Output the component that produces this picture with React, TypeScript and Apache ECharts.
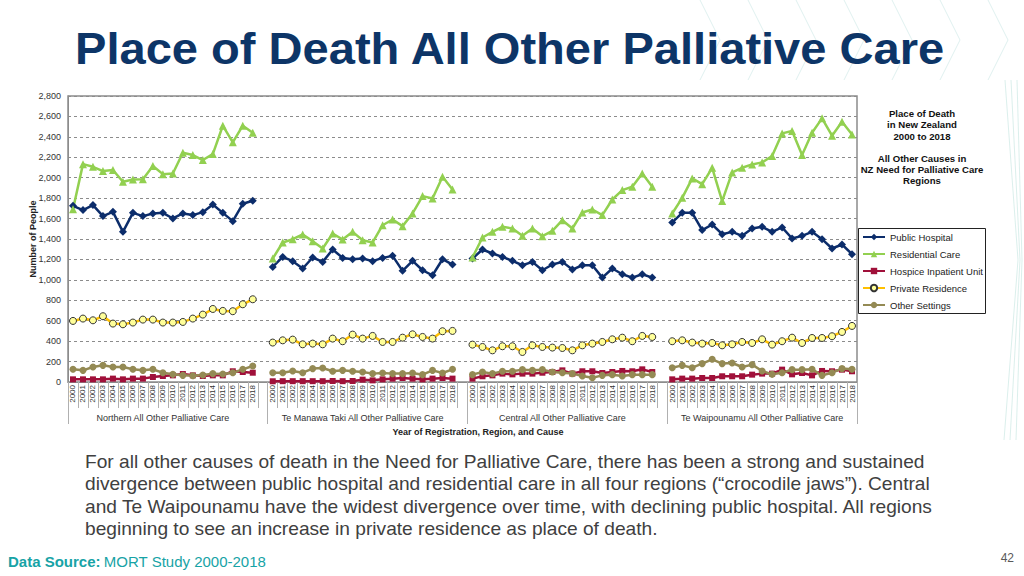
import React, { useEffect, useRef } from "react";
import * as echarts from "echarts";

const years = ["2000","2001","2002","2003","2004","2005","2006","2007","2008","2009","2010","2011","2012","2013","2014","2015","2016","2017","2018"];
const regions = [
  "Northern All Other Palliative Care",
  "Te Manawa Taki All Other Palliative Care",
  "Central All Other Palliative Care",
  "Te Waipounamu All Other Palliative Care",
];
const seriesNames = ["Public Hospital", "Residential Care", "Hospice Inpatient Unit", "Private Residence", "Other Settings"];
const yTicks = [0, 2800, 200];

// Public Hospital
const publicNorthern = [1725,1683,1732,1624,1666,1470,1656,1624,1650,1656,1601,1650,1634,1663,1738,1656,1575,1745,1774];
const publicTMT = [1127,1225,1183,1111,1219,1176,1297,1215,1202,1209,1183,1215,1235,1088,1186,1094,1045,1202,1150];
const publicCentral = [1209,1297,1258,1225,1186,1143,1176,1094,1150,1176,1101,1143,1143,1022,1111,1055,1022,1055,1022];
const publicTW = [1562,1656,1656,1487,1542,1447,1470,1431,1503,1519,1470,1513,1405,1431,1470,1398,1307,1346,1251];

// Residential Care
const residentialNorthern = [1692,2133,2107,2065,2075,1960,1983,1986,2114,2035,2042,2244,2222,2173,2231,2509,2346,2509,2440];
const residentialTMT = [1209,1366,1398,1444,1379,1307,1454,1395,1470,1388,1366,1535,1591,1526,1650,1820,1797,2009,1885];
const residentialCentral = [1219,1415,1470,1519,1503,1431,1503,1428,1480,1584,1503,1660,1689,1634,1787,1879,1911,2042,1911];
const residentialTW = [1650,1803,1993,1937,2097,1771,2052,2097,2130,2150,2212,2434,2457,2222,2440,2581,2411,2548,2424];

// Hospice Inpatient Unit
const hospiceNorthern = [26,26,26,26,33,26,33,33,49,59,65,78,65,59,65,65,105,98,91];
const hospiceTMT = [7,8,8,8,8,8,10,8,10,23,16,26,33,39,33,26,33,39,33];
const hospiceCentral = [33,56,65,82,75,82,82,91,98,114,82,105,105,88,98,108,105,124,98];
const hospiceTW = [26,33,33,39,39,56,56,56,72,82,82,121,75,88,65,108,105,121,105];

// Private Residence
const privateNorthern = [598,621,604,644,572,565,582,611,611,582,582,588,621,660,715,696,693,761,810];
const privateTMT = [386,408,415,369,376,369,425,399,464,425,451,392,392,434,467,441,425,497,500];
const privateCentral = [366,343,310,350,350,294,359,343,337,333,310,359,376,392,418,434,399,451,441];
const privateTW = [399,408,386,376,382,359,369,392,382,418,366,399,434,382,431,431,448,490,549];

// Other Settings
const otherNorthern = [124,114,147,163,147,147,124,114,124,91,75,65,62,69,82,78,91,124,157];
const otherTMT = [91,91,108,91,131,137,105,114,105,98,82,88,82,82,88,72,114,88,124];
const otherCentral = [72,98,82,105,105,121,114,121,98,91,82,59,42,65,72,59,72,72,72];
const otherTW = [140,163,140,180,222,180,186,147,170,108,75,91,121,121,124,65,91,131,124];

const bodyText = [
  "For all other causes of death in the Need for Palliative Care, there has been a strong and sustained",
  "divergence between public hospital and residential care in all four regions (\u201ccrocodile jaws\u201d). Central",
  "and Te Waipounamu have the widest divergence over time, with declining public hospital. All regions",
  "beginning to see an increase in private residence as place of death.",
];

const FONT = "'Liberation Sans', Arial, sans-serif";

function joinGroups(parts: number[][]): (number | null)[] {
  const out: (number | null)[] = [];
  parts.forEach((p, i) => {
    out.push(...p);
    if (i < parts.length - 1) out.push(null);
  });
  return out;
}

const categories: string[] = [];
regions.forEach((_, i) => {
  categories.push(...years);
  if (i < regions.length - 1) categories.push("");
});
const groupSize = years.length + 1;

export default function App() {
  const ref = useRef<HTMLDivElement>(null);
  useEffect(() => {
    if (!ref.current) return;
    const chart = echarts.init(ref.current, null, { renderer: "svg" });

    const mk = (name: string, data: (number | null)[], symbol: string, size: number, color: string, lineColor: string, border?: string) => ({
      name,
      type: "line",
      data,
      symbol,
      symbolSize: size,
      connectNulls: false,
      lineStyle: { color: lineColor, width: 2.5 },
      itemStyle: border ? { color, borderColor: border, borderWidth: 1 } : { color },
      emphasis: { disabled: true },
    });

    const option: any = {
      animation: false,
      backgroundColor: "#ffffff",
      textStyle: { fontFamily: FONT },
      grid: { left: 68, right: 167, top: 96, bottom: 194, show: true, borderColor: "#8c8c8c", borderWidth: 1.5, backgroundColor: "transparent" },
      legend: {
        data: seriesNames,
        orient: "vertical",
        left: 858,
        top: 228,
        borderWidth: 0,
        padding: [4, 4, 4, 4],
        itemGap: 7,
        itemWidth: 22,
        itemHeight: 8,
        textStyle: { fontSize: 9.5, color: "#222", fontFamily: FONT },
      },
      xAxis: [
        {
          type: "category",
          data: categories,
          boundaryGap: true,
          axisLine: { show: true, lineStyle: { color: "#8c8c8c", width: 1 } },
          axisTick: { show: true, interval: 0, length: 26, lineStyle: { color: "#b0b0b0" } },
          axisLabel: { interval: 0, rotate: 90, fontSize: 8, color: "#333", margin: 3, fontFamily: FONT },
          splitLine: { show: false },
        },
        {
          type: "category",
          data: categories,
          position: "bottom",
          boundaryGap: true,
          axisLine: { show: false },
          axisTick: {
            show: true,
            length: 42,
            interval: (index: number) => index % groupSize === 0 || index === categories.length,
            lineStyle: { color: "#b0b0b0" },
          },
          axisLabel: {
            interval: 0,
            margin: 31,
            fontSize: 9,
            color: "#333",
            fontFamily: FONT,
            formatter: (_v: string, index: number) => (index % groupSize === 9 ? regions[Math.floor(index / groupSize)] : ""),
          },
          splitLine: { show: false },
        },
      ],
      yAxis: {
        type: "value",
        min: yTicks[0],
        max: yTicks[1],
        interval: yTicks[2],
        name: "Number of People",
        nameLocation: "middle",
        nameGap: 31,
        nameMoveOverlap: false,
        nameTextStyle: { fontSize: 9, fontWeight: "bold", color: "#222", fontFamily: FONT },
        axisLine: { show: true, lineStyle: { color: "#8c8c8c" } },
        axisTick: { show: false },
        axisLabel: {
          fontSize: 9,
          color: "#333",
          margin: 7,
          fontFamily: FONT,
          formatter: (v: number) => v.toLocaleString("en-US"),
        },
        splitLine: { show: true, lineStyle: { color: "#8c8c8c", type: [3, 3], width: 1 } },
      },
      series: [
        mk(seriesNames[0], joinGroups([publicNorthern, publicTMT, publicCentral, publicTW]), "diamond", 8, "#0c2d6b", "#0c2d6b"),
        mk(seriesNames[1], joinGroups([residentialNorthern, residentialTMT, residentialCentral, residentialTW]), "triangle", 8, "#92d050", "#92d050"),
        mk(seriesNames[2], joinGroups([hospiceNorthern, hospiceTMT, hospiceCentral, hospiceTW]), "rect", 6, "#a0103a", "#a0103a"),
        mk(seriesNames[3], joinGroups([privateNorthern, privateTMT, privateCentral, privateTW]), "circle", 7, "#ffff99", "#ffc000", "#333"),
        mk(seriesNames[4], joinGroups([otherNorthern, otherTMT, otherCentral, otherTW]), "circle", 7, "#948a54", "#948a54"),
      ],
      graphic: [
        ...[0, 1, 2, 3, 4, 5, 6].map((i) => ({
          type: "polyline",
          silent: true,
          z: -1,
          shape: { points: [[700 + i * 48, 0], [720 + i * 48, 40], [700 + i * 48, 80]] },
          style: { stroke: "rgba(110,190,180,0.22)", lineWidth: 1, fill: "none" },
        })),
        ...[0, 1, 2].map((i) => ({
          type: "polyline",
          silent: true,
          z: -1,
          shape: { points: [[1005 + i * 6, 80], [1018 + i * 2, 260], [1004 + i * 6, 440]] },
          style: { stroke: "rgba(110,190,180,0.25)", lineWidth: 1, fill: "none" },
        })),
        {
          type: "rect",
          silent: true,
          shape: { x: 858.5, y: 228.5, width: 127, height: 85 },
          style: { fill: "none", stroke: "#222", lineWidth: 1 },
        },
        {
          type: "text",
          x: 75,
          y: 27.5,
          scaleX: 1.07,
          style: { text: "Place of Death All Other Palliative Care", fontSize: 44, fontWeight: "bold", fill: "#0d3567", verticalAlign: "top", fontFamily: FONT },
        },
        {
          type: "text",
          x: 922,
          y: 108,
          style: {
            text: "Place of Death\nin New Zealand\n2000 to 2018\n\nAll Other Causes in\nNZ Need for Palliative Care\nRegions",
            fontSize: 9.6,
            fontWeight: "bold",
            lineHeight: 11.2,
            fill: "#111",
            align: "center",
            verticalAlign: "top",
            fontFamily: FONT,
          },
        },
        {
          type: "text",
          x: 478,
          y: 432,
          style: { text: "Year of Registration, Region, and Cause", fontSize: 9, fontWeight: "bold", fill: "#222", align: "center", verticalAlign: "middle", fontFamily: FONT },
        },
        {
          type: "text",
          x: 85,
          y: 450.5,
          style: { text: bodyText.join("\n"), fontSize: 19.15, lineHeight: 22.3, fill: "#404040", verticalAlign: "top", fontFamily: FONT },
        },
        {
          type: "text",
          x: 8,
          y: 561.5,
          style: {
            text: "{b|Data Source:} {r|MORT Study 2000-2018}",
            verticalAlign: "middle",
            rich: {
              b: { fontSize: 15, fontWeight: "bold", fill: "#17a3a6", fontFamily: FONT },
              r: { fontSize: 15, fill: "#17a3a6", fontFamily: FONT },
            },
          },
        },
        {
          type: "text",
          x: 1014,
          y: 558,
          style: { text: "42", fontSize: 12, fill: "#595959", align: "right", verticalAlign: "middle", fontFamily: FONT },
        },
      ],
    };
    chart.setOption(option);
    return () => chart.dispose();
  }, []);
  return <div ref={ref} style={{ position: "fixed", left: 0, top: 0, width: 1024, height: 576, background: "#fff" }} />;
}
